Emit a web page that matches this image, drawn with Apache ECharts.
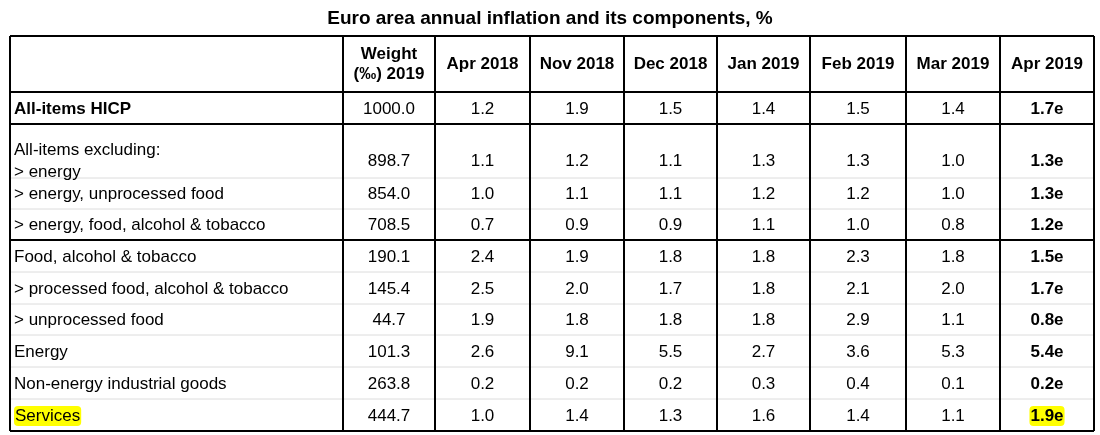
<!DOCTYPE html>
<html>
<head>
<meta charset="utf-8" />
<title>Euro area annual inflation</title>
<script src="https://cdn.jsdelivr.net/npm/echarts@6/dist/echarts.min.js"></script>
</head>
<body style="margin:0;background:#fff">
<div id="main" style="width:1100px;height:435px;"></div>
<script type="text/javascript">
// table content
var rowLabels = ['All-items HICP', 'All-items excluding:\n> energy', '> energy, unprocessed food',
    '> energy, food, alcohol & tobacco', 'Food, alcohol & tobacco', '> processed food, alcohol & tobacco',
    '> unprocessed food', 'Energy', 'Non-energy industrial goods', 'Services'];
var columnHeaders = ['Weight\n(‰) 2019', 'Apr 2018', 'Nov 2018', 'Dec 2018', 'Jan 2019', 'Feb 2019', 'Mar 2019', 'Apr 2019'];
var weights = ['1000.0', '898.7', '854.0', '708.5', '190.1', '145.4', '44.7', '101.3', '263.8', '444.7'];
var apr2018 = ['1.2', '1.1', '1.0', '0.7', '2.4', '2.5', '1.9', '2.6', '0.2', '1.0'];
var nov2018 = ['1.9', '1.2', '1.1', '0.9', '1.9', '2.0', '1.8', '9.1', '0.2', '1.4'];
var dec2018 = ['1.5', '1.1', '1.1', '0.9', '1.8', '1.7', '1.8', '5.5', '0.2', '1.3'];
var jan2019 = ['1.4', '1.3', '1.2', '1.1', '1.8', '1.8', '1.8', '2.7', '0.3', '1.6'];
var feb2019 = ['1.5', '1.3', '1.2', '1.0', '2.3', '2.1', '2.9', '3.6', '0.4', '1.4'];
var mar2019 = ['1.4', '1.0', '1.0', '0.8', '1.8', '2.0', '1.1', '5.3', '0.1', '1.1'];
var apr2019 = ['1.7e', '1.3e', '1.3e', '1.2e', '1.5e', '1.7e', '0.8e', '5.4e', '0.2e', '1.9e'];

// layout (pixel-like units on hidden axes)
var colEdges = [10, 343, 435, 530, 624, 717, 810, 906, 1000, 1094];
var rowEdges = [36, 92, 124, 178, 209, 240, 272, 304, 335, 367, 399, 431];
var thickRows = [0, 1, 2, 5, 11];

var columns = [weights, apr2018, nov2018, dec2018, jan2019, feb2019, mar2019, apr2019];
var cells = [];
columnHeaders.forEach(function (h, c) { cells.push([c + 1, 0, h]); });
rowLabels.forEach(function (l, r) {
    cells.push([0, r + 1, l]);
    columns.forEach(function (col, c) { cells.push([c + 1, r + 1, col[r]]); });
});
// [kind (0 = horizontal, 1 = vertical), edge index]
var lines = [];
rowEdges.forEach(function (y, i) { lines.push([0, i]); });
colEdges.forEach(function (x, i) { lines.push([1, i]); });

var font = '"Liberation Sans", Arial, sans-serif';
var chart = echarts.init(document.getElementById('main'));
chart.setOption({
    animation: false,
    title: {
        text: 'Euro area annual inflation and its components, %',
        left: 'center', top: 4,
        textStyle: { fontFamily: font, fontSize: 19, fontWeight: 'bold', color: '#000' }
    },
    grid: { left: 0, right: 0, top: 0, bottom: 0 },
    xAxis: { type: 'value', min: 0, max: 1100, show: false },
    yAxis: { type: 'value', min: 0, max: 435, inverse: true, show: false },
    series: [{
        type: 'custom',
        data: lines,
        z: 1,
        renderItem: function (params, api) {
            var kind = api.value(0), i = api.value(1);
            var a, b, thick, color;
            if (kind === 0) {
                a = api.coord([colEdges[0], rowEdges[i]]);
                b = api.coord([colEdges[colEdges.length - 1], rowEdges[i]]);
                thick = thickRows.indexOf(i) >= 0;
                color = thick ? '#000' : '#dcdcdc';
            } else {
                a = api.coord([colEdges[i], rowEdges[0]]);
                b = api.coord([colEdges[i], rowEdges[rowEdges.length - 1]]);
                thick = true; color = '#000';
            }
            return { type: 'line', shape: { x1: a[0], y1: a[1], x2: b[0], y2: b[1] },
                style: { stroke: color, lineWidth: thick ? 2 : 1 } };
        }
    }, {
        type: 'custom',
        data: cells,
        z: 2,
        renderItem: function (params, api) {
            var c = api.value(0), r = api.value(1), txt = cells[params.dataIndex][2];
            var p0 = api.coord([colEdges[c], rowEdges[r]]);
            var p1 = api.coord([colEdges[c + 1], rowEdges[r + 1]]);
            var bold = r === 0 || c === 8 || (r === 1 && c === 0);
            var isLabel = c === 0;
            var highlight = (r === 10 && (c === 0 || c === 8));
            return {
                type: 'text',
                style: {
                    text: txt,
                    x: isLabel ? p0[0] + 4 : (p0[0] + p1[0]) / 2,
                    y: r === 0 ? (p0[1] + p1[1]) / 2 : (r === 2 ? p1[1] - 17 : (p0[1] + p1[1]) / 2 + 1),
                    align: isLabel ? 'left' : 'center',
                    verticalAlign: 'middle',
                    fontFamily: font,
                    fontSize: 17,
                    lineHeight: r === 2 ? 22 : 20,
                    fontWeight: bold ? 'bold' : 'normal',
                    fill: '#000',
                    backgroundColor: highlight ? '#ffff00' : null,
                    borderRadius: highlight ? 4 : 0,
                    padding: highlight ? [0, 1] : 0
                }
            };
        }
    }]
});
</script>
</body>
</html>
